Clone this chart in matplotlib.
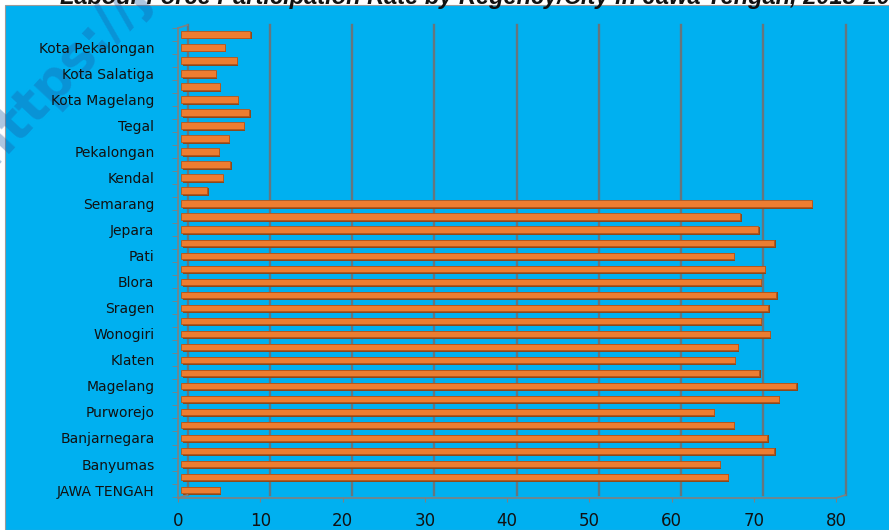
import matplotlib
matplotlib.use("Agg")
import matplotlib.pyplot as plt
from matplotlib.patches import Rectangle
from matplotlib.transforms import ScaledTranslation, blended_transform_factory
from matplotlib.lines import Line2D
import numpy as np

regions = ['JAWA TENGAH', 'Cilacap', 'Banyumas', 'Purbalingga', 'Banjarnegara', 'Kebumen',
           'Purworejo', 'Wonosobo', 'Magelang', 'Boyolali', 'Klaten', 'Sukoharjo',
           'Wonogiri', 'Karanganyar', 'Sragen', 'Grobogan', 'Blora', 'Rembang',
           'Pati', 'Kudus', 'Jepara', 'Demak', 'Semarang', 'Temanggung',
           'Kendal', 'Batang', 'Pekalongan', 'Pemalang', 'Tegal', 'Brebes',
           'Kota Magelang', 'Kota Surakarta', 'Kota Salatiga', 'Kota Semarang',
           'Kota Pekalongan', 'Kota Tegal']
values = [4.7, 66.5, 65.5, 72.1, 71.3, 67.2,
          64.8, 72.7, 74.8, 70.3, 67.3, 67.7,
          71.6, 70.5, 71.4, 72.4, 70.5, 71.0,
          67.2, 72.1, 70.2, 68.0, 76.7, 3.2,
          5.1, 6.0, 4.6, 5.8, 7.6, 8.3,
          6.9, 4.7, 4.2, 6.8, 5.3, 8.4]
xticks = [0, 10, 20, 30, 40, 50, 60, 70, 80]
title = "Labour Force Participation Rate by Regency/City in Jawa Tengah, 2018-2019"

W, H, DPI = 889, 530, 100
fig = plt.figure(figsize=(W / DPI, H / DPI), dpi=DPI)
fig.patch.set_facecolor('white')

# blue chart background
bg = Rectangle((5 / W, 0), 1, (H - 5) / H, transform=fig.transFigure,
               facecolor='#00B0F0', edgecolor='#9a9a9a', linewidth=0.8, zorder=0)
fig.patches.append(bg)

# watermark
fig.text(-8 / W, (H - 168) / H, "https://jateng.bps.go.id", rotation=47,
         rotation_mode='anchor', ha='left', va='baseline', fontsize=38,
         fontweight='bold', color='#1c5fa8', alpha=0.36, zorder=0.5,
         family='DejaVu Sans')

# title (partly cut off at the top)
fig.text(60 / W, (H - 4) / H, title, ha='left', va='baseline', fontsize=17,
         fontweight='bold', fontstyle='italic', family='Liberation Sans',
         color='#111111', zorder=3)

left, right, top, bottom = 178, 836, 28, 498
ax = fig.add_axes([left / W, (H - bottom) / H, (right - left) / W, (bottom - top) / H])
ax.set_facecolor('none')
ax.set_zorder(1)

n = len(regions)
pos = np.arange(n)
ax.set_xlim(0, 80)
ax.set_ylim(-0.61, 35.38)

dx, dy = 9.5 / DPI, 3 / DPI
back = ScaledTranslation(dx, dy, fig.dpi_scale_trans)

# back-wall gridlines
gtrans = blended_transform_factory(ax.transData, ax.transAxes) + back
for t in xticks:
    ax.add_line(Line2D([t, t], [0, 1.0], transform=gtrans, color='#66767d',
                       linewidth=1.7, zorder=1, clip_on=False))

# 3D frame edges
ftrans = ax.transAxes
for (x0, y0) in [(0, 0), (1, 0), (0, 1)]:
    p0 = ftrans.transform((x0, y0))
    p1 = p0 + np.array([dx * DPI, dy * DPI])
    q0 = fig.transFigure.inverted().transform(p0)
    q1 = fig.transFigure.inverted().transform(p1)
    fig.add_artist(Line2D([q0[0], q1[0]], [q0[1], q1[1]], transform=fig.transFigure,
                          color='#808080', linewidth=1.2, zorder=2))

# bars (slight shadow + main bar)
barshift = ScaledTranslation(3 / DPI, 0, fig.dpi_scale_trans)
shadow = ax.barh(pos, values, height=0.58, color='#8a4a1e', zorder=2, linewidth=0)
for b in shadow:
    b.set_transform(ax.transData + ScaledTranslation(4.5 / DPI, -1.2 / DPI, fig.dpi_scale_trans))
bars = ax.barh(pos, values, height=0.5, color='#ED7D31', edgecolor='#b5571d',
               linewidth=0.6, zorder=3)
for b in bars:
    b.set_transform(ax.transData + barshift)

for s in ['top', 'right']:
    ax.spines[s].set_visible(False)
for s in ['left', 'bottom']:
    ax.spines[s].set_color('#808080')
    ax.spines[s].set_linewidth(1.2)

ax.set_yticks(pos)
ax.set_yticklabels([r if i % 2 == 0 else '' for i, r in enumerate(regions)],
                   fontsize=10, color='#111111', family='DejaVu Sans')
ax.tick_params(axis='y', length=0, pad=17)
ax.set_yticks(np.arange(-0.5, n, 1), minor=True)
ax.tick_params(axis='y', which='minor', length=4, color='#808080', direction='out')

ax.set_xticks(xticks)
ax.set_xticklabels([str(t) for t in xticks], fontsize=12, color='#111111',
                   family='DejaVu Sans')
ax.tick_params(axis='x', length=3, color='#808080', pad=7)

fig.savefig('out.png', dpi=DPI)
